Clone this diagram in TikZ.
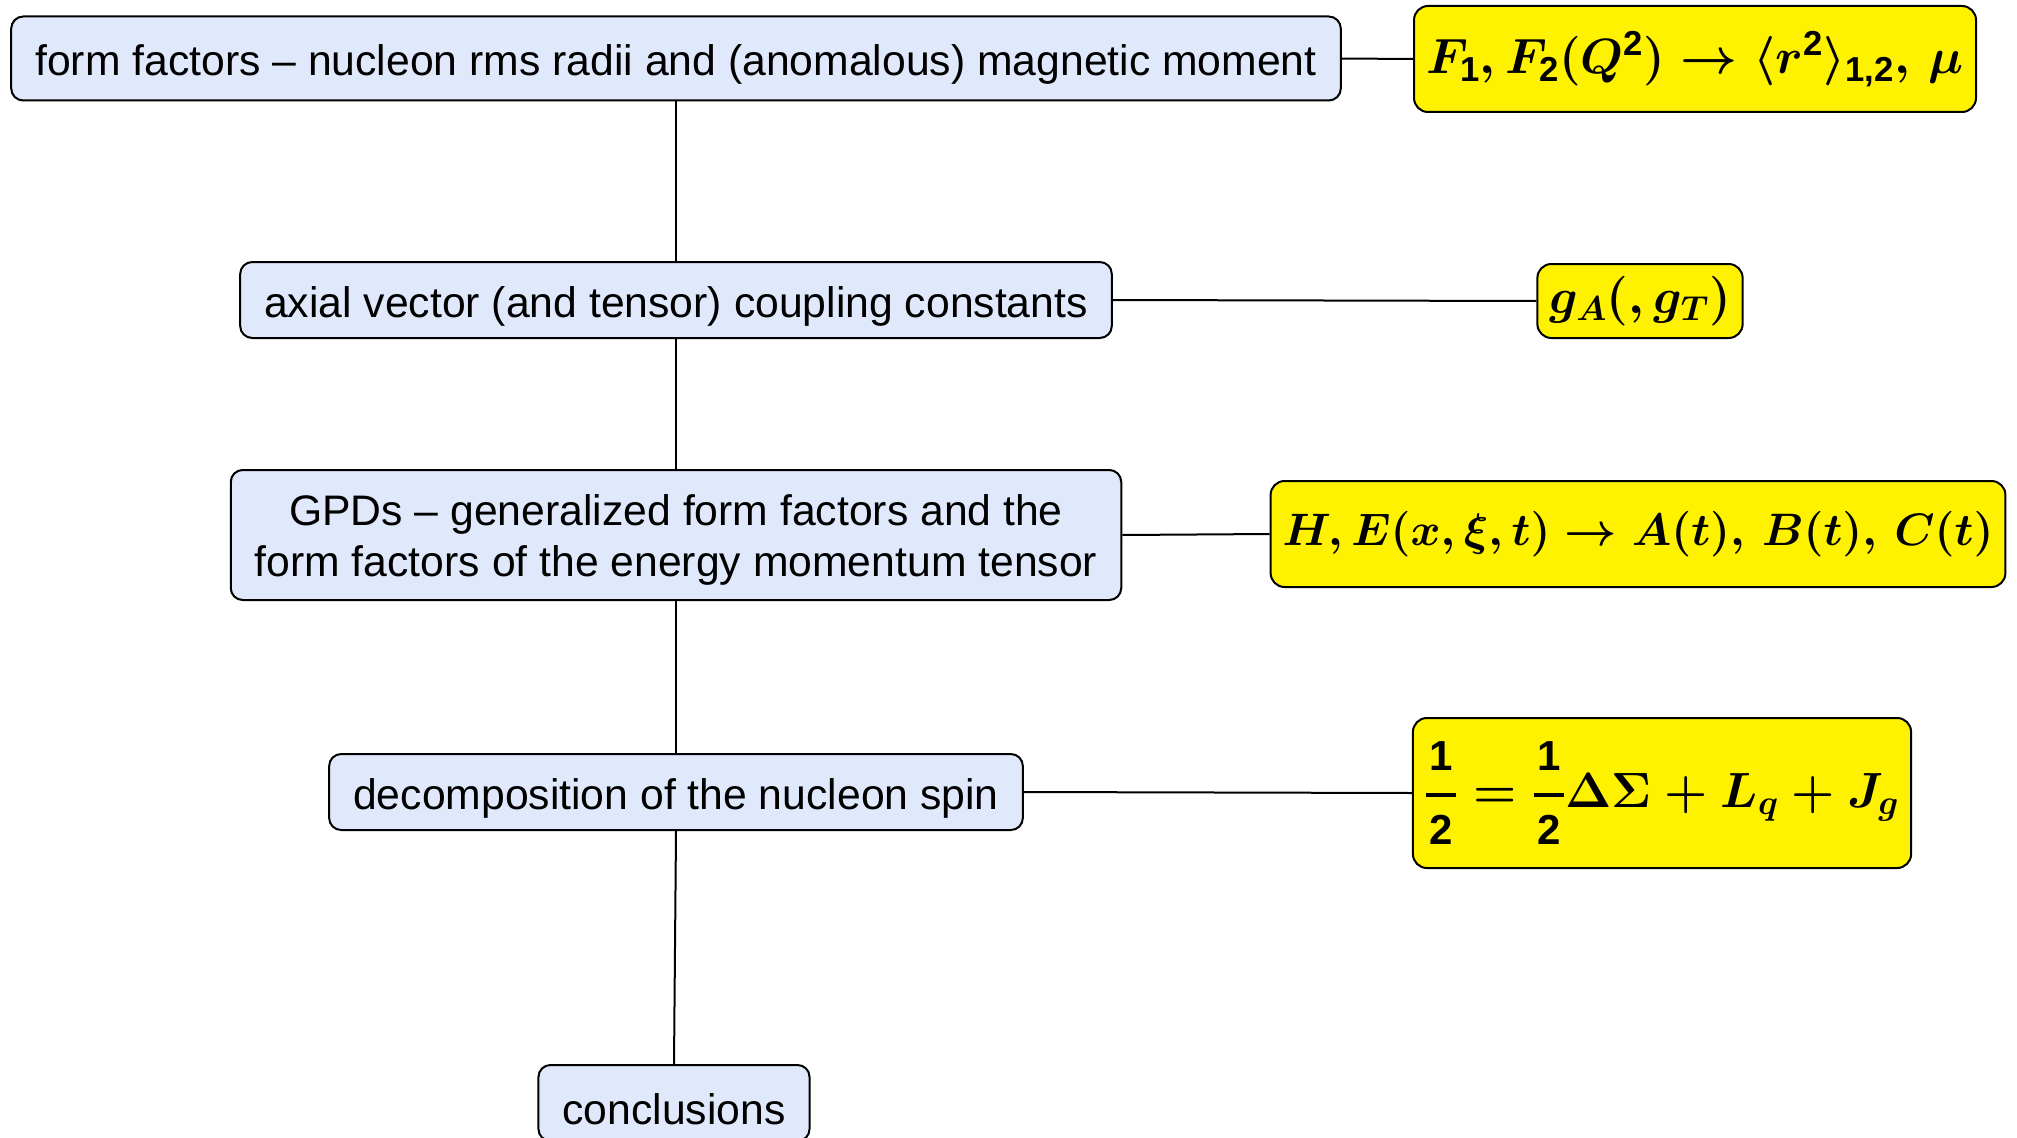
\RequirePackage{fix-cm}
\documentclass[tikz,border=0pt]{standalone}
\usepackage{amsmath}
\usepackage{fontspec}
\setmainfont{Liberation Sans}
\definecolor{topicblue}{RGB}{224,233,252}
\newcommand\dg[1]{\text{\bfseries #1}}
\newcommand\fd[1]{\kern3.5pt\text{\fontsize{42}{42}\selectfont\bfseries #1}\kern3.5pt}
\begin{document}
\begin{tikzpicture}[x=1pt,y=-1pt,
    topic/.style={draw,line width=2pt,rounded corners=12pt,fill=topicblue,
      inner xsep=24pt,inner ysep=10pt,minimum height=76pt,align=center,
      text height=43pt,font=\fontsize{42.7}{51}\selectfont},
    formula/.style={draw,line width=2pt,rounded corners=14pt,fill=yellow,
      inner xsep=12pt,inner ysep=6pt,font=\fontsize{49.5}{58}\selectfont\boldmath},
    link/.style={line width=2pt}]
  \clip (0,0) rectangle (2017,1137);
  \node[topic,minimum height=84pt] (ff) at (676,58.5) {form factors -- nucleon rms radii and (anomalous) magnetic moment};
  \node[topic] (axial) at (676,300) {axial vector (and tensor) coupling constants};
  \node[topic,minimum height=130pt,text height=] (gpd) at (676,535) {\rule{0pt}{41pt}GPDs -- generalized form factors and the\\form factors of the energy momentum tensor};
  \node[topic] (spin) at (676,792) {decomposition of the nucleon spin};
  \node[topic] (concl) at (674,1103) {conclusions};
  \node[formula,minimum height=106pt] (ffres) at (1695,59) {$F_{\dg{1}},F_{\dg{2}}(Q^{\dg{2}})\rightarrow\langle r^{\dg{2}}\rangle_{\dg{1,2}},\,\mu$};
  \node[formula,minimum height=74pt] (axres) at (1640,301) {$g_A(,g_T)$};
  \node[formula,minimum height=106pt,font=\fontsize{45.5}{54}\selectfont\boldmath] (gpdres) at (1638,534) {$H,E(x,\xi,t)\rightarrow A(t),\,B(t),\,C(t)$};
  \node[formula,minimum height=150pt] (spinres) at (1662,793) {$\genfrac{}{}{4pt}{0}{\fd{1}}{\fd{2}}=\genfrac{}{}{4pt}{0}{\fd{1}}{\fd{2}}\Delta\Sigma+L_q+J_g$};
  \foreach \a/\b in {ff/axial,axial/gpd,gpd/spin,spin/concl}
    \draw[link] (\a.south) -- (\b.north);
  \foreach \a/\b in {ff/ffres,axial/axres,gpd/gpdres,spin/spinres}
    \draw[link] (\a.east) -- (\b.west);
\end{tikzpicture}
\end{document}
